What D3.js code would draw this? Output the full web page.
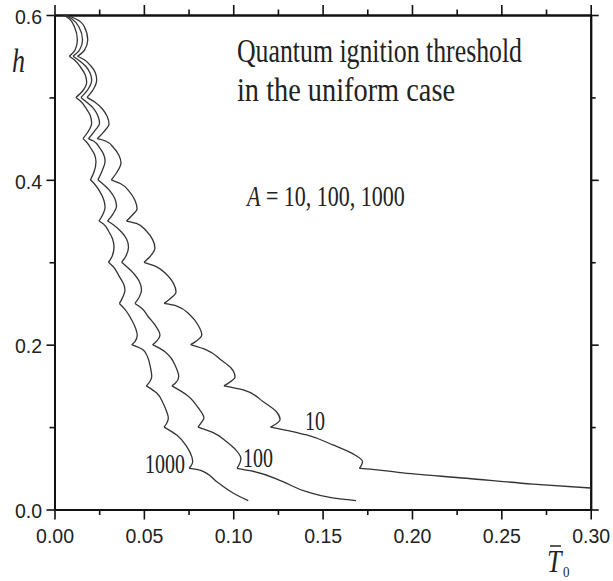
<!DOCTYPE html>
<html>
<head>
<meta charset="utf-8" />
<title>Quantum ignition threshold</title>
<script src="https://d3js.org/d3.v7.min.js"></script>
<style>
  body { margin: 0; background: #fff; }
  .tick text { font-family: "Liberation Sans", Arial, sans-serif; font-size: 19.5px; fill: #222; }
  .domain { stroke: #111; stroke-width: 2; }
  .tick line { stroke: #111; stroke-width: 1.6; }
  .serif { font-family: "Liberation Serif", "Times New Roman", serif; fill: #222; }
  .curve { fill: none; stroke: #333; stroke-width: 1.3; }
</style>
</head>
<body>
<script>
// tick values
const xMajor = [0, 0.05, 0.10, 0.15, 0.20, 0.25, 0.30];
const xMinor = [0.025, 0.075, 0.125, 0.175, 0.225, 0.275];
const yMajor = [0, 0.2, 0.4, 0.6];
const yMinor = [0.1, 0.3, 0.5];

// threshold curves [T0, h]
const curveA10 = [
  [0.0064,0.600],[0.0120,0.5951],[0.0165,0.5866],[0.0186,0.5697],[0.0168,0.5575],[0.0129,0.550],
  [0.0165,0.5460],[0.0204,0.5381],[0.0229,0.5296],[0.0236,0.5211],[0.0215,0.5090],[0.0182,0.500],
  [0.0225,0.4944],[0.0268,0.4859],[0.0295,0.4768],[0.0305,0.4677],[0.0277,0.4586],[0.0239,0.450],
  [0.0286,0.4471],[0.0332,0.4386],[0.0361,0.4295],[0.0372,0.4204],[0.0350,0.4095],[0.0318,0.400],
  [0.0368,0.3955],[0.0419,0.3857],[0.0450,0.3752],[0.0462,0.3646],[0.0436,0.3573],[0.0403,0.350],
  [0.0459,0.3471],[0.0515,0.3377],[0.0549,0.3275],[0.0562,0.3173],[0.0537,0.3076],[0.0501,0.300],
  [0.0563,0.2954],[0.0626,0.2854],[0.0665,0.2746],[0.0680,0.2639],[0.0652,0.2566],[0.0613,0.250],
  [0.0684,0.2469],[0.0758,0.2360],[0.0803,0.2239],[0.0824,0.2117],[0.0796,0.2048],[0.0762,0.200],
  [0.0852,0.1935],[0.0932,0.1814],[0.0988,0.1717],[0.1010,0.1608],[0.0982,0.1547],[0.0948,0.150],
  [0.1056,0.1450],[0.1168,0.1308],[0.1243,0.1183],[0.1262,0.1092],[0.1239,0.1037],[0.1209,0.100],
  [0.1411,0.0904],[0.1558,0.0783],[0.1681,0.0661],[0.1723,0.0582],[0.1718,0.0540],[0.1706,0.050],
  [0.1765,0.0491],[0.1933,0.0447],[0.2306,0.0379],[0.2677,0.0309],[0.2999,0.0261]
];
const curveA100 = [
  [0.0059,0.600],[0.0098,0.5951],[0.0137,0.5854],[0.0157,0.5697],[0.0140,0.5575],[0.0104,0.550],
  [0.0134,0.5454],[0.0176,0.5375],[0.0200,0.5290],[0.0208,0.5211],[0.0185,0.5090],[0.0148,0.500],
  [0.0179,0.4944],[0.0221,0.4859],[0.0243,0.4774],[0.0252,0.4689],[0.0224,0.4592],[0.0190,0.450],
  [0.0218,0.4471],[0.0252,0.4392],[0.0274,0.4313],[0.0283,0.4228],[0.0266,0.4107],[0.0243,0.400],
  [0.0271,0.3949],[0.0311,0.3864],[0.0336,0.3779],[0.0347,0.3682],[0.0327,0.3585],[0.0297,0.350],
  [0.0327,0.3458],[0.0372,0.3373],[0.0403,0.3282],[0.0414,0.3185],[0.0400,0.3076],[0.0376,0.300],
  [0.0406,0.2942],[0.0448,0.2851],[0.0476,0.2760],[0.0487,0.2663],[0.0473,0.2572],[0.0450,0.250],
  [0.0488,0.2441],[0.0525,0.2339],[0.0562,0.2239],[0.0590,0.2117],[0.0568,0.2036],[0.0549,0.200],
  [0.0618,0.1915],[0.0652,0.1838],[0.0674,0.1753],[0.0695,0.1611],[0.0677,0.1535],[0.0657,0.150],
  [0.0740,0.1389],[0.0805,0.1232],[0.0836,0.1110],[0.0820,0.1050],[0.0803,0.100],
  [0.0888,0.0932],[0.0963,0.0823],[0.1010,0.0734],[0.1043,0.0619],[0.1035,0.0552],[0.1021,0.050],
  [0.1094,0.0471],[0.1278,0.0337],[0.1411,0.0216],[0.1541,0.0148],[0.1687,0.0107]
];
const curveA1000 = [
  [0.0050,0.600],[0.0084,0.5951],[0.0112,0.5854],[0.0128,0.5697],[0.0115,0.5575],[0.0083,0.550],
  [0.0112,0.5454],[0.0145,0.5369],[0.0171,0.5278],[0.0180,0.5191],[0.0157,0.5078],[0.0120,0.500],
  [0.0145,0.4956],[0.0176,0.4871],[0.0200,0.4780],[0.0208,0.4689],[0.0187,0.4580],[0.0159,0.450],
  [0.0179,0.4459],[0.0204,0.4380],[0.0225,0.4301],[0.0232,0.4216],[0.0221,0.4095],[0.0201,0.400],
  [0.0224,0.3949],[0.0252,0.3864],[0.0274,0.3767],[0.0283,0.3670],[0.0269,0.3573],[0.0249,0.350],
  [0.0274,0.3464],[0.0302,0.3379],[0.0325,0.3282],[0.0333,0.3185],[0.0322,0.3070],[0.0302,0.300],
  [0.0329,0.2946],[0.0363,0.2825],[0.0389,0.2724],[0.0394,0.2663],[0.0376,0.2550],[0.0363,0.250],
  [0.0394,0.2429],[0.0432,0.2299],[0.0454,0.2198],[0.0463,0.2117],[0.0450,0.2036],[0.0432,0.200],
  [0.0497,0.1935],[0.0523,0.1838],[0.0534,0.1753],[0.0544,0.1611],[0.0532,0.1547],[0.0514,0.150],
  [0.0572,0.1413],[0.0607,0.1292],[0.0624,0.1207],[0.0637,0.1110],[0.0627,0.1043],[0.0613,0.100],
  [0.0684,0.0904],[0.0740,0.0762],[0.0768,0.0641],[0.0773,0.0582],[0.0767,0.0540],[0.0753,0.050],
  [0.0814,0.0479],[0.0908,0.0337],[0.0999,0.0200],[0.1084,0.0107]
];

const width = 613, height = 581;
const svg = d3.select("body").append("svg")
  .attr("width", width)
  .attr("height", height);

const x = d3.scaleLinear().domain([0, 0.3]).range([54.5, 590.7]);
const y = d3.scaleLinear().domain([0, 0.6]).range([509.5, 15]);

// axes: labelled bottom/left, plain top/right, minor ticks on all sides
svg.append("g").attr("transform", `translate(0,${y(0)})`)
  .call(d3.axisBottom(x).tickValues(xMajor).tickSize(10).tickSizeOuter(0).tickPadding(9.5).tickFormat(d3.format(".2f")));
svg.append("g").attr("transform", `translate(0,${y(0)})`)
  .call(d3.axisBottom(x).tickValues(xMinor).tickSize(5.5).tickSizeOuter(0).tickFormat(""));
svg.append("g").attr("transform", `translate(0,${y(0.6)})`)
  .call(d3.axisTop(x).tickValues(xMajor).tickSize(10).tickSizeOuter(0).tickFormat(""));
svg.append("g").attr("transform", `translate(0,${y(0.6)})`)
  .call(d3.axisTop(x).tickValues(xMinor).tickSize(5.5).tickSizeOuter(0).tickFormat(""));

svg.append("g").attr("transform", `translate(${x(0)},0)`)
  .call(d3.axisLeft(y).tickValues(yMajor).tickSize(8).tickSizeOuter(0).tickPadding(4.5).tickFormat(d3.format(".1f")))
  .selectAll("text").attr("dy", "0.42em");
svg.append("g").attr("transform", `translate(${x(0)},0)`)
  .call(d3.axisLeft(y).tickValues(yMinor).tickSize(5).tickSizeOuter(0).tickFormat(""));
svg.append("g").attr("transform", `translate(${x(0.3)},0)`)
  .call(d3.axisRight(y).tickValues(yMajor).tickSize(8).tickSizeOuter(0).tickFormat(""));
svg.append("g").attr("transform", `translate(${x(0.3)},0)`)
  .call(d3.axisRight(y).tickValues(yMinor).tickSize(5).tickSizeOuter(0).tickFormat(""));

// split a curve at its cusps (local minima in T) so the notches stay sharp
function pieces(pts) {
  const out = [];
  let cur = [pts[0]];
  for (let i = 1; i < pts.length; i++) {
    cur.push(pts[i]);
    const isCusp = i < pts.length - 1 && pts[i][0] < pts[i - 1][0] && pts[i][0] < pts[i + 1][0];
    if (isCusp) { out.push(cur); cur = [pts[i]]; }
  }
  if (cur.length > 1) out.push(cur);
  return out;
}

const line = d3.line()
  .x(d => x(d[0]))
  .y(d => y(d[1]))
  .curve(d3.curveMonotoneY);

[curveA10, curveA100, curveA1000].forEach(c => {
  svg.append("g").selectAll("path")
    .data(pieces(c))
    .enter()
    .append("path")
    .attr("class", "curve")
    .attr("d", line);
});

// serif text, stretched vertically like the original
function label(tx, ty, str, size, opts) {
  opts = opts || {};
  const t = svg.append("text")
    .attr("class", "serif")
    .attr("transform", `translate(${tx},${ty}) scale(1,${opts.sy || 1.35})`)
    .style("font-size", size + "px")
    .text(str);
  if (opts.italic) t.style("font-style", "italic");
  if (opts.len) t.attr("textLength", opts.len).attr("lengthAdjust", "spacingAndGlyphs");
  return t;
}

label(237, 62, "Quantum ignition threshold", 25.5, {len: 285});
label(237, 101, "in the uniform case", 25.5, {len: 218});

const eq = svg.append("text")
  .attr("class", "serif")
  .attr("transform", "translate(247,206) scale(1,1.35)")
  .style("font-size", "22px");
eq.append("tspan").style("font-style", "italic").text("A");
eq.append("tspan").text(" = 10, 100, 1000");

label(305, 430, "10", 20);
label(243, 467, "100", 20);
label(145, 473, "1000", 20);

// axis titles
label(12, 72, "h", 26, {italic: true, sy: 1.3});
label(547, 572, "T", 26, {italic: true, sy: 1.2});
label(563, 577, "0", 13, {sy: 1.15});
svg.append("line")
  .attr("x1", 550).attr("x2", 561)
  .attr("y1", 546).attr("y2", 546)
  .attr("stroke", "#222").attr("stroke-width", 1.5);
</script>
</body>
</html>
